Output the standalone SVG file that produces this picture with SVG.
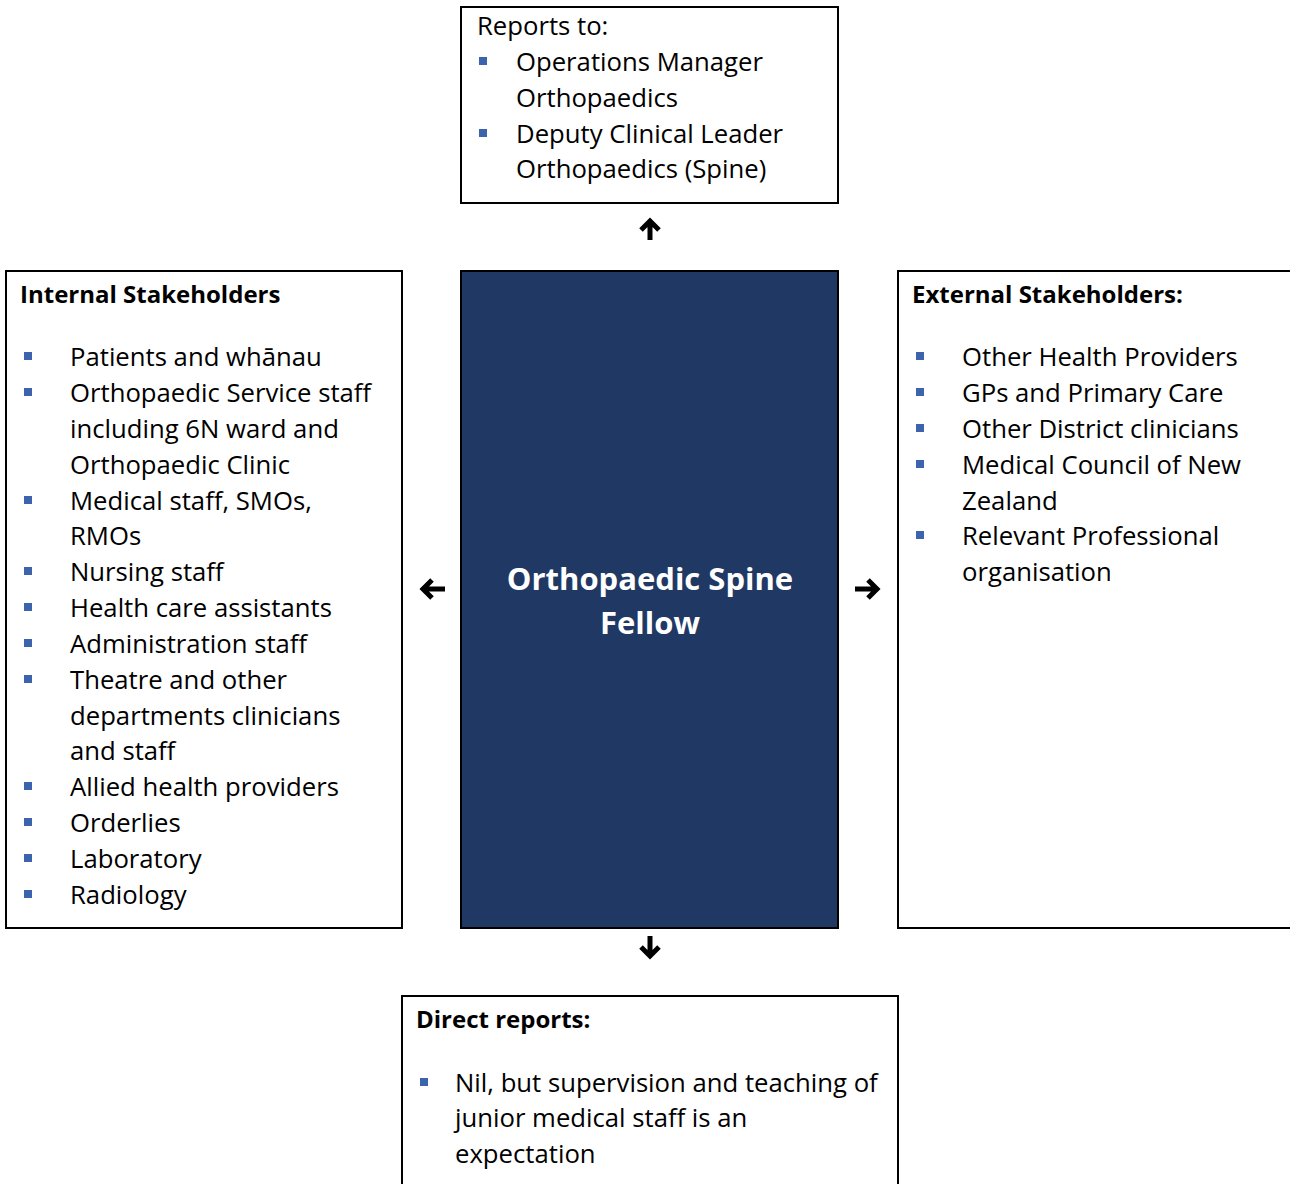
<svg xmlns="http://www.w3.org/2000/svg" width="1290" height="1184" viewBox="0 0 1290 1184">
<style>
.box{fill:#ffffff;stroke:#000000;stroke-width:2}
.core{fill:#203864;stroke:#000000;stroke-width:2}
.t{font-family:"Open Sans","Liberation Sans",sans-serif;font-size:25.7px;fill:#000000}
.h{font-family:"Open Sans","Liberation Sans",sans-serif;font-size:24px;font-weight:bold;fill:#000000}
.c{font-family:"Open Sans","Liberation Sans",sans-serif;font-size:31px;font-weight:bold;fill:#ffffff;text-anchor:middle}
.b{fill:#3b64ad}
.arr{fill:none;stroke:#000000;stroke-width:5;stroke-linecap:butt;stroke-linejoin:miter}
</style>
<defs>
<rect id="bul" width="8" height="8" class="b"/>
</defs>
<rect width="1290" height="1184" fill="#ffffff"/>

<g id="reports-to">
<rect class="box" x="461" y="7" width="377" height="196"/>
<text class="t" x="477" y="35">Reports to:</text>
<use href="#bul" x="479" y="57"/>
<text class="t" x="516" y="71">Operations Manager</text>
<text class="t" x="516" y="107">Orthopaedics</text>
<use href="#bul" x="479" y="129"/>
<text class="t" x="516" y="143">Deputy Clinical Leader</text>
<text class="t" x="516" y="178">Orthopaedics (Spine)</text>
</g>

<g id="internal">
<rect class="box" x="6" y="271" width="396" height="657"/>
<text class="h" x="20" y="303">Internal Stakeholders</text>
<use href="#bul" x="24" y="352"/>
<text class="t" x="70" y="366">Patients and whānau</text>
<use href="#bul" x="24" y="388"/>
<text class="t" x="70" y="402">Orthopaedic Service staff</text>
<text class="t" x="70" y="438">including 6N ward and</text>
<text class="t" x="70" y="474">Orthopaedic Clinic</text>
<use href="#bul" x="24" y="496"/>
<text class="t" x="70" y="510">Medical staff, SMOs,</text>
<text class="t" x="70" y="545">RMOs</text>
<use href="#bul" x="24" y="567"/>
<text class="t" x="70" y="581">Nursing staff</text>
<use href="#bul" x="24" y="603"/>
<text class="t" x="70" y="617">Health care assistants</text>
<use href="#bul" x="24" y="639"/>
<text class="t" x="70" y="653">Administration staff</text>
<use href="#bul" x="24" y="675"/>
<text class="t" x="70" y="689">Theatre and other</text>
<text class="t" x="70" y="725">departments clinicians</text>
<text class="t" x="70" y="760">and staff</text>
<use href="#bul" x="24" y="782"/>
<text class="t" x="70" y="796">Allied health providers</text>
<use href="#bul" x="24" y="818"/>
<text class="t" x="70" y="832">Orderlies</text>
<use href="#bul" x="24" y="854"/>
<text class="t" x="70" y="868">Laboratory</text>
<use href="#bul" x="24" y="890"/>
<text class="t" x="70" y="904">Radiology</text>
</g>

<g id="role">
<rect class="core" x="461" y="271" width="377" height="657"/>
<text class="c" x="650" y="590">Orthopaedic Spine</text>
<text class="c" x="650" y="634">Fellow</text>
</g>

<g id="external">
<rect class="box" x="898" y="271" width="400" height="657"/>
<text class="h" x="912" y="303">External Stakeholders:</text>
<use href="#bul" x="916" y="352"/>
<text class="t" x="962" y="366">Other Health Providers</text>
<use href="#bul" x="916" y="388"/>
<text class="t" x="962" y="402">GPs and Primary Care</text>
<use href="#bul" x="916" y="424"/>
<text class="t" x="962" y="438">Other District clinicians</text>
<use href="#bul" x="916" y="460"/>
<text class="t" x="962" y="474">Medical Council of New</text>
<text class="t" x="962" y="510">Zealand</text>
<use href="#bul" x="916" y="531"/>
<text class="t" x="962" y="545">Relevant Professional</text>
<text class="t" x="962" y="581">organisation</text>
</g>

<g id="direct-reports">
<rect class="box" x="402" y="996" width="496" height="200"/>
<text class="h" x="416" y="1028">Direct reports:</text>
<use href="#bul" x="420" y="1078"/>
<text class="t" x="455" y="1092">Nil, but supervision and teaching of</text>
<text class="t" x="455" y="1127">junior medical staff is an</text>
<text class="t" x="455" y="1163">expectation</text>
</g>

<g id="connectors">
<path class="arr" d="M650 240 V221 M641 230 L650 221 L659 230"/>
<path class="arr" d="M650 936 V956 M641 947 L650 956 L659 947"/>
<path class="arr" d="M445 589 H423 M432 580 L423 589 L432 598"/>
<path class="arr" d="M855 589 H877 M868 580 L877 589 L868 598"/>
</g>
</svg>
